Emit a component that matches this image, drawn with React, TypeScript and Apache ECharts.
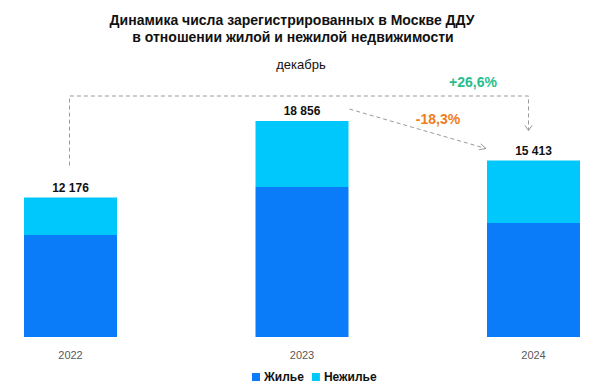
import React, { useEffect, useRef } from "react";
import * as echarts from "echarts";

const years = ["2022", "2023", "2024"];
const residential = [8900, 13100, 9950];
const nonResidential = [3276, 5756, 5463];
const totals = [12176, 18856, 15413];
const legendNames = ["Жилье", "Нежилье"];
const titleLines = [
  "Динамика числа зарегистрированных в Москве ДДУ",
  "в отношении жилой и нежилой недвижимости",
];
const subtitle = "декабрь";
const changeAll = "+26,6%";
const changeLast = "-18,3%";

const FONT = "'Liberation Sans', Arial, sans-serif";

function fmt(v: number) {
  return String(v).replace(/\B(?=(\d{3})+(?!\d))/g, " ");
}

export default function App() {
  const ref = useRef<HTMLDivElement>(null);
  useEffect(() => {
    if (!ref.current) return;
    const chart = echarts.init(ref.current, undefined, { renderer: "svg" });
    chart.setOption({
      animation: false,
      backgroundColor: "#ffffff",
      textStyle: { fontFamily: FONT },
      legend: {
        data: legendNames,
        left: 247,
        top: 366,
        icon: "rect",
        itemWidth: 8,
        itemHeight: 8,
        itemGap: 8,
        textStyle: { fontFamily: FONT, fontSize: 12, fontWeight: "bold", color: "#111", padding: [0, 0, 0, -1] },
      },
      grid: { left: 70.5, right: 66.5, top: 108, bottom: 47 },
      xAxis: {
        type: "category",
        data: years,
        boundaryGap: false,
        axisLine: { show: false },
        axisTick: { show: false },
        axisLabel: { color: "#595959", fontSize: 11, margin: 12, fontFamily: FONT },
      },
      yAxis: { type: "value", min: 0, max: 20000, show: false, splitLine: { show: false } },
      series: [
        {
          name: legendNames[0],
          type: "bar",
          stack: "t",
          barWidth: 93,
          data: residential,
          itemStyle: { color: "#0A7CFA" },
        },
        {
          name: legendNames[1],
          type: "bar",
          stack: "t",
          barWidth: 93,
          data: nonResidential,
          itemStyle: { color: "#00C8FC" },
          label: {
            show: true,
            position: "top",
            distance: 4,
            formatter: (p: any) => fmt(totals[p.dataIndex]),
            fontFamily: FONT,
            fontSize: 12,
            fontWeight: "bold",
            color: "#111",
          },
        },
      ],
    });

    const pt = (i: number, v: number) => chart.convertToPixel({ gridIndex: 0 }, [i, v]) as number[];
    const p0 = pt(0, totals[0]);
    const p1 = pt(1, totals[1]);
    const p2 = pt(2, totals[2]);
    const half = 46.5;
    const topY = 96;
    const dashStyle = { stroke: "#9a9a9a", lineWidth: 1, lineDash: [4, 3], fill: null };
    const headStyle = { stroke: "#9a9a9a", lineWidth: 1, fill: null };

    const rx = p2[0] - 5;
    const ry = p2[1] - 30;
    const sx = p1[0] + half + 1;
    const sy = p1[1] - 12;
    const ex = p2[0] - half - 1;
    const ey = p2[1] - 12;
    const ang = Math.atan2(ey - sy, ex - sx);
    const hl = 7;
    const hw = 0.45;

    const txt = (text: string, x: number, y: number, font: string, fill: string) => ({
      type: "text",
      x,
      y,
      silent: true,
      style: { text, fill, font, align: "center", verticalAlign: "middle" },
    });

    chart.setOption({
      graphic: [
        txt(titleLines[0], 292, 20, `bold 14px ${FONT}`, "#111"),
        txt(titleLines[1], 293, 37, `bold 14px ${FONT}`, "#111"),
        txt(subtitle, 301, 64, `13px ${FONT}`, "#111"),
        {
          type: "polyline",
          silent: true,
          shape: { points: [[p0[0] - 1, p0[1] - 32], [p0[0] - 1, topY], [rx, topY], [rx, ry]] },
          style: dashStyle,
        },
        {
          type: "polyline",
          silent: true,
          shape: { points: [[rx - 3.5, ry - 5], [rx, ry], [rx + 3.5, ry - 5]] },
          style: headStyle,
        },
        {
          type: "line",
          silent: true,
          shape: { x1: sx, y1: sy, x2: ex, y2: ey },
          style: dashStyle,
        },
        {
          type: "polyline",
          silent: true,
          shape: {
            points: [
              [ex - hl * Math.cos(ang - hw), ey - hl * Math.sin(ang - hw)],
              [ex, ey],
              [ex - hl * Math.cos(ang + hw), ey - hl * Math.sin(ang + hw)],
            ],
          },
          style: headStyle,
        },
        txt(changeAll, 473, 82, `bold 14px ${FONT}`, "#27BE8E"),
        txt(changeLast, 438, 119, `bold 14px ${FONT}`, "#EE7D22"),
      ],
    });

    return () => chart.dispose();
  }, []);
  return <div ref={ref} style={{ width: 600, height: 384, position: "absolute", left: 0, top: 0 }} />;
}
